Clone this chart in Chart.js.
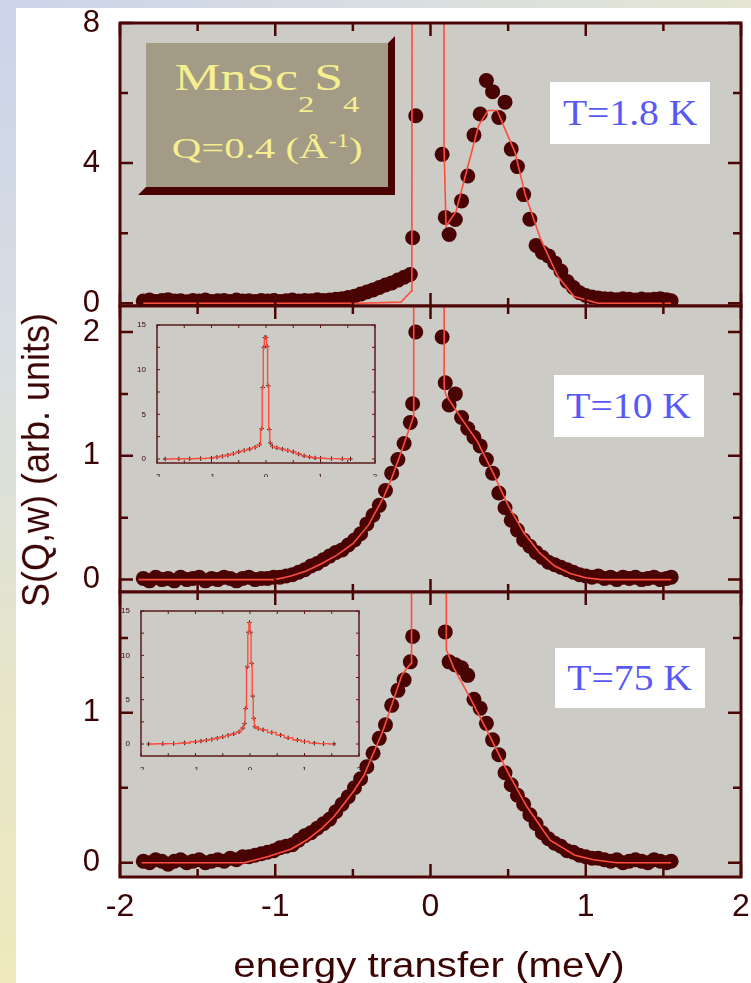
<!DOCTYPE html>
<html>
<head>
<meta charset="utf-8">
<title>MnSc2S4 S(Q,w)</title>
<script src="https://cdn.jsdelivr.net/npm/chart.js@4.4.1/dist/chart.umd.min.js"></script>
<style>
  html, body { margin: 0; padding: 0; background: #fff; }
  #fig { position: relative; width: 751px; height: 983px; overflow: hidden; background: #fff; }
  #edgeLeft { position: absolute; left: 0; top: 0; width: 16px; height: 983px;
    background: linear-gradient(180deg, #cbd4ea 0%, #d8dee2 35%, #e6e5c9 70%, #efe9bd 100%); }
  #edgeTop { position: absolute; left: 0; top: 0; width: 751px; height: 8px;
    background: linear-gradient(90deg, #cbd4ea 0%, #d8dee2 50%, #e4e5d2 100%); }
  canvas { position: absolute; }
  .tbox { position: absolute; background: #fff; color: #5858f6;
    font: 36px 'Liberation Serif', 'Times New Roman', serif;
    display: flex; align-items: center; justify-content: center; }
  .tbox span { display: inline-block; transform: scaleX(1.1); white-space: nowrap; }
  #sampleShadow { position: absolute; left: 138px; top: 36px; width: 257px; height: 159px; background: #4a0303;
    clip-path: polygon(250px 7px, 257px 0, 257px 159px, 0 159px, 8px 151px, 250px 151px); }
  #sampleFace { position: absolute; left: 146px; top: 43px; width: 242px; height: 144px; background: #a39b86; }
  .sline { position: absolute; left: 146px; width: 242px; text-align: center; color: #f5ef8e;
    font-family: 'Liberation Serif', 'Times New Roman', serif; white-space: nowrap; }
  .sline span.w { display: inline-block; transform: scaleX(1.36); }
  .sub { font-size: 24px; position: relative; top: 22px; }
  .sup { font-size: 18px; position: relative; top: -11px; }
  .axtitle { position: absolute; color: #3a0404; font-family: 'Liberation Sans', Arial, sans-serif; white-space: nowrap; line-height: 1; }
</style>
</head>
<body>
<div id="fig">
  <div id="edgeLeft"></div>
  <div id="edgeTop"></div>

  <canvas id="p18" width="780" height="363" style="left:0;top:-17px"></canvas>
  <canvas id="p10" width="780" height="366" style="left:0;top:266px"></canvas>
  <canvas id="p75" width="780" height="431" style="left:0;top:552px"></canvas>
  <canvas id="i10" width="260" height="172" style="left:130px;top:315px"></canvas>
  <canvas id="i75" width="260" height="172" style="left:114px;top:601px"></canvas>

  <div id="sampleShadow"></div>
  <div id="sampleFace"></div>
  <div class="sline" style="top:58px;font-size:38px;line-height:38px"><span class="w">MnSc<span class="sub">2</span>S<span class="sub">4</span></span></div>
  <div class="sline" style="top:133px;font-size:30px;line-height:30px"><span class="w">Q=0.4 (Å<span class="sup">-1</span>)</span></div>

  <div class="tbox" style="left:550px;top:82px;width:160px;height:62px"><span>T=1.8 K</span></div>
  <div class="tbox" style="left:554px;top:375px;width:150px;height:62px"><span>T=10 K</span></div>
  <div class="tbox" style="left:555px;top:648px;width:150px;height:60px"><span>T=75 K</span></div>

  <div class="axtitle" style="left:36px;top:460px;font-size:36px;transform:translate(-50%,-50%) rotate(-90deg) scaleY(1.1)">S(Q,w) (arb. units)</div>
  <div class="axtitle" style="left:429px;top:964px;font-size:35px;transform:translate(-50%,-50%) scaleX(1.15)">energy transfer (meV)</div>
</div>

<script>
// energy grid of the measured points (meV)
const energy = [
  -1.85, -1.81, -1.77, -1.73, -1.69, -1.65, -1.61, -1.57, -1.53, -1.49,
  -1.45, -1.41, -1.37, -1.33, -1.29, -1.25, -1.21, -1.17, -1.13, -1.09,
  -1.05, -1.01, -0.97, -0.93, -0.89, -0.85, -0.81, -0.77, -0.73, -0.69,
  -0.65, -0.61, -0.57, -0.53, -0.49, -0.45, -0.41, -0.37, -0.33, -0.29,
  -0.25, -0.21, -0.17, -0.13, -0.115, -0.095, 0.075, 0.095, 0.12, 0.16,
  0.20, 0.24, 0.28, 0.32, 0.36, 0.40, 0.44, 0.48, 0.52, 0.56,
  0.60, 0.64, 0.68, 0.72, 0.76, 0.80, 0.84, 0.88, 0.92, 0.96,
  1.00, 1.04, 1.08, 1.12, 1.16, 1.20, 1.24, 1.28, 1.32, 1.36,
  1.40, 1.44, 1.48, 1.52, 1.55
];

// S(Q,w) at T = 1.8 K
const s18 = [
  0.06, 0.09, 0.05, 0.08, 0.1, 0.06, 0.07, 0.04, 0.08, 0.06,
  0.09, 0.05, 0.07, 0.08, 0.05, 0.09, 0.06, 0.07, 0.05, 0.08,
  0.06, 0.08, 0.05, 0.07, 0.09, 0.06, 0.08, 0.07, 0.1, 0.08,
  0.09, 0.11, 0.13, 0.16, 0.2, 0.26, 0.32, 0.38, 0.45, 0.52,
  0.58, 0.66, 0.74, 0.82, 1.87, 5.35, 4.25, 2.45, 1.96, 2.39,
  2.92, 3.63, 4.8, 5.4, 6.36, 6.04, 5.3, 5.74, 4.4, 3.9,
  3.1, 2.4, 1.65, 1.45, 1.35, 1.15, 0.92, 0.62, 0.45, 0.3,
  0.22, 0.18, 0.15, 0.13, 0.12, 0.1, 0.13, 0.11, 0.09, 0.12,
  0.1, 0.11, 0.13, 0.1, 0.07
];

// S(Q,w) at T = 10 K
const s10 = [
  0.01, -0.01, 0.02, 0.0, 0.01, -0.01, 0.02, 0.0, 0.01, 0.02,
  -0.01, 0.01, 0.0, 0.02, 0.01, -0.01, 0.01, 0.02, 0.0, 0.01,
  0.01, 0.02, 0.02, 0.03, 0.04, 0.06, 0.08, 0.11, 0.13, 0.16,
  0.19, 0.22, 0.24, 0.28, 0.32, 0.37, 0.45, 0.52, 0.6, 0.72,
  0.86, 0.97, 1.1, 1.27, 1.42, 2.0, 1.96, 1.59, 1.41, 1.5,
  1.31, 1.22, 1.15, 1.08, 0.97, 0.86, 0.7, 0.58, 0.48, 0.4,
  0.32, 0.27, 0.22, 0.18, 0.14, 0.12, 0.1, 0.08, 0.06, 0.04,
  0.03, 0.02, 0.03, 0.01, 0.02, 0.0, 0.02, 0.01, 0.02, 0.0,
  0.01, 0.02, 0.0, 0.01, 0.02
];

// S(Q,w) at T = 75 K
const s75 = [
  0.01, 0.0, 0.02, 0.01, -0.01, 0.01, 0.02, 0.0, 0.01, 0.02,
  0.0, 0.01, 0.02, 0.01, 0.03, 0.02, 0.04, 0.04, 0.05, 0.06,
  0.07, 0.08, 0.1, 0.11, 0.12, 0.15, 0.18, 0.2, 0.23, 0.26,
  0.29, 0.34, 0.39, 0.44, 0.5, 0.56, 0.64, 0.73, 0.83, 0.92,
  1.05, 1.15, 1.22, 1.34, 1.51, null, null, 1.54, 1.34, 1.32,
  1.3, 1.25, 1.09, 1.03, 0.93, 0.82, 0.72, 0.6, 0.52, 0.45,
  0.39, 0.32, 0.26, 0.2, 0.16, 0.13, 0.11, 0.08, 0.07, 0.05,
  0.04, 0.03, 0.03, 0.02, 0.01, 0.02, 0.0, 0.01, 0.02, 0.01,
  0.0, 0.02, 0.01, 0.0, 0.01
];

// fitted curves (the elastic line runs off the top of each panel)
const fit18E = [-1.85, -0.46, -0.19, -0.124, -0.12, -0.113, 0.086, 0.087, 0.1, 0.165, 0.236, 0.31, 0.37, 0.43, 0.48, 0.545, 0.61, 0.71, 0.82, 0.925, 1.08, 1.55];
const fit18 = [0, 0, 0.03, 0.34, 2.4, 40, 40, 4.5, 2.2, 2.63, 3.83, 5.07, 5.5, 5.5, 4.97, 4.3, 3.1, 1.82, 0.77, 0.19, 0, 0];

const fit10E = [-1.88, -1.0, -0.9, -0.8, -0.7, -0.6, -0.5, -0.4, -0.3, -0.25, -0.2, -0.15, -0.12, -0.11, -0.108, 0.086, 0.088, 0.1, 0.2, 0.3, 0.4, 0.5, 0.6, 0.7, 0.8, 0.9, 1.0, 1.1, 1.55];
const fit10 = [0, 0, 0.03, 0.07, 0.13, 0.2, 0.29, 0.44, 0.67, 0.82, 0.99, 1.17, 1.28, 1.32, 40, 40, 1.55, 1.49, 1.3, 1.12, 0.87, 0.6, 0.38, 0.22, 0.11, 0.05, 0.015, 0, 0];

const fit75E = [-1.86, -1.2, -1.05, -0.9, -0.8, -0.7, -0.62, -0.5, -0.43, -0.31, -0.25, -0.185, -0.15, -0.125, -0.122, 0.1, 0.102, 0.15, 0.25, 0.37, 0.5, 0.62, 0.77, 0.93, 1.05, 1.2, 1.55];
const fit75 = [0, 0, 0.04, 0.09, 0.15, 0.23, 0.31, 0.47, 0.58, 0.87, 1.05, 1.25, 1.3, 1.33, 40, 40, 1.42, 1.3, 1.11, 0.87, 0.6, 0.375, 0.15, 0.05, 0.02, 0, 0];

// insets: full scale including the elastic peak
const inset10E = [-1.85, -1.6, -1.4, -1.2, -1.0, -0.9, -0.8, -0.7, -0.6, -0.5, -0.4, -0.3, -0.2, -0.12, -0.08, -0.06, -0.04, -0.02, 0, 0.02, 0.04, 0.06, 0.08, 0.12, 0.2, 0.3, 0.4, 0.5, 0.6, 0.7, 0.8, 0.9, 1.0, 1.2, 1.4, 1.55];
const inset10 = [0.0, 0.02, 0.03, 0.05, 0.1, 0.2, 0.3, 0.42, 0.6, 0.8, 0.95, 1.1, 1.3, 1.6, 3.4, 8.0, 12.5, 13.6, 13.6, 12.6, 8.2, 3.3, 1.8, 1.4, 1.25, 1.1, 0.95, 0.8, 0.55, 0.35, 0.22, 0.12, 0.08, 0.04, 0.02, 0.01];

const inset75E = [-1.86, -1.6, -1.4, -1.2, -1.0, -0.9, -0.8, -0.7, -0.6, -0.5, -0.4, -0.3, -0.2, -0.13, -0.1, -0.08, -0.05, -0.03, -0.01, 0.01, 0.03, 0.05, 0.07, 0.09, 0.15, 0.24, 0.4, 0.56, 0.7, 0.87, 1.0, 1.18, 1.35, 1.54];
const inset75 = [0.0, 0.03, 0.05, 0.12, 0.25, 0.33, 0.42, 0.52, 0.65, 0.82, 0.98, 1.15, 1.38, 1.8, 2.3, 4.0, 8.7, 12.6, 13.7, 12.6, 9.1, 5.4, 2.9, 1.95, 1.75, 1.6, 1.3, 1.0, 0.7, 0.45, 0.28, 0.1, 0.04, 0.01];

const xLabels = [-2, -1, 0, 1, 2];
const xMinor = [-1.5, -0.5, 0.5, 1.5];
const y18Labels = [0, 4, 8];
const y18Minor = [2, 6];
const y10Labels = [0, 1, 2];
const y10Minor = [0.5, 1.5];
const y75Labels = [0, 1];
const y75Minor = [0.5, 1.5];
const insetYLabels = [0, 5, 10, 15];
const insetYMinor = [2.5, 7.5, 12.5];

const DOT = '#4a0303';
const FRAME = '#4d0606';
const RED = '#ff4d3d';
const PLOT_BG = '#cdcbc6';
const LABEL = '#3a0404';
const SANS = "'Liberation Sans', Arial, sans-serif";

const pts = (xs, ys) => xs.map((x, i) => ({ x, y: ys[i] })).filter((p) => p.y !== null);

// gray plot area, inward ticks on all four sides and the frame
const frameAndTicks = {
  id: 'frameAndTicks',
  beforeDraw(chart, args, options) {
    const { ctx, chartArea: { left, top, width, height } } = chart;
    ctx.save();
    ctx.fillStyle = options.fill;
    ctx.fillRect(left, top, width, height);
    ctx.restore();
  },
  afterDatasetsDraw(chart, args, options) {
    const { ctx, chartArea: { left, right, top, bottom }, scales: { x, y } } = chart;
    ctx.save();
    ctx.strokeStyle = options.color;
    ctx.lineWidth = options.tickWidth;
    ctx.beginPath();
    const xTick = (v, len) => {
      const p = x.getPixelForValue(v);
      ctx.moveTo(p, top); ctx.lineTo(p, top + len);
      ctx.moveTo(p, bottom); ctx.lineTo(p, bottom - len);
    };
    const yTick = (v, len) => {
      const p = y.getPixelForValue(v);
      ctx.moveTo(left, p); ctx.lineTo(left + len, p);
      ctx.moveTo(right, p); ctx.lineTo(right - len, p);
    };
    options.xMajor.forEach((v) => xTick(v, options.major));
    options.xMinor.forEach((v) => xTick(v, options.minor));
    options.yMajor.forEach((v) => yTick(v, options.major));
    options.yMinor.forEach((v) => yTick(v, options.minor));
    ctx.stroke();
    ctx.lineWidth = options.lineWidth;
    ctx.strokeRect(left, top, right - left, bottom - top);
    ctx.restore();
  },
};

function drawPanel(id, cfg) {
  return new Chart(document.getElementById(id), {
    type: 'scatter',
    data: {
      datasets: [
        { data: pts(cfg.fitE, cfg.fit), showLine: true, borderColor: RED, borderWidth: 1.6, pointRadius: 0, order: 0 },
        { data: pts(energy, cfg.values), pointRadius: 7.5, backgroundColor: DOT, borderWidth: 0, order: 1 },
      ],
    },
    options: {
      responsive: false,
      animation: false,
      devicePixelRatio: 1,
      events: [],
      layout: { padding: cfg.padding },
      scales: {
        x: {
          type: 'linear', min: -2, max: 2,
          display: !!cfg.showX,
          grid: { display: false },
          border: { display: false },
          ticks: { color: LABEL, font: { family: SANS, size: 32 }, padding: 3, maxRotation: 0, autoSkip: false, callback: (v) => String(v) },
          afterBuildTicks: (s) => { s.ticks = xLabels.map((v) => ({ value: v })); },
          afterFit: (s) => { s.height = cfg.showX ? 50 : 0; },
        },
        y: {
          type: 'linear', min: cfg.yMin, max: cfg.yMax,
          grid: { display: false },
          border: { display: false },
          ticks: { color: LABEL, font: { family: SANS, size: 31 }, padding: 12, callback: (v) => String(v) },
          afterBuildTicks: (s) => { s.ticks = cfg.yLabels.map((v) => ({ value: v })); },
          afterFit: (s) => { s.width = 120; },
        },
      },
      plugins: {
        legend: { display: false },
        tooltip: { enabled: false },
        frameAndTicks: {
          fill: PLOT_BG, color: FRAME, lineWidth: 3, tickWidth: 2.5, major: 13, minor: 8,
          xMajor: xLabels, xMinor: xMinor, yMajor: cfg.yLabels, yMinor: cfg.yMinor,
        },
      },
    },
    plugins: [frameAndTicks],
  });
}

function drawInset(id, e, s, yMin, padBottom) {
  return new Chart(document.getElementById(id), {
    type: 'scatter',
    data: {
      datasets: [
        { data: pts(e, s), showLine: true, stepped: 'middle', borderColor: RED, borderWidth: 1.4, pointRadius: 0, order: 0 },
        { data: pts(e, s), pointStyle: 'cross', pointRadius: 2.2, borderColor: '#3a0a0a', borderWidth: 1, order: 1 },
      ],
    },
    options: {
      responsive: false,
      animation: false,
      devicePixelRatio: 1,
      events: [],
      layout: { padding: { left: 0, right: 15, top: 10, bottom: padBottom } },
      scales: {
        x: {
          type: 'linear', min: -2, max: 2,
          grid: { display: false },
          border: { display: false },
          ticks: { color: LABEL, font: { family: SANS, size: 8 }, padding: 1, maxRotation: 0, autoSkip: false, callback: (v) => String(v) },
          afterBuildTicks: (sc) => { sc.ticks = xLabels.map((v) => ({ value: v })); },
          afterFit: (sc) => { sc.height = 14; },
        },
        y: {
          type: 'linear', min: yMin, max: 15,
          grid: { display: false },
          border: { display: false },
          ticks: { color: LABEL, font: { family: SANS, size: 8 }, padding: 3, callback: (v) => String(v) },
          afterBuildTicks: (sc) => { sc.ticks = insetYLabels.map((v) => ({ value: v })); },
          afterFit: (sc) => { sc.width = 27; },
        },
      },
      plugins: {
        legend: { display: false },
        tooltip: { enabled: false },
        frameAndTicks: {
          fill: PLOT_BG, color: '#5a1a1a', lineWidth: 1.5, tickWidth: 1, major: 3, minor: 3,
          xMajor: xLabels, xMinor: xMinor, yMajor: insetYLabels, yMinor: insetYMinor,
        },
      },
    },
    plugins: [frameAndTicks],
  });
}

drawPanel('p18', {
  values: s18, fitE: fit18E, fit: fit18,
  yMin: -0.08, yMax: 8, yLabels: y18Labels, yMinor: y18Minor,
  padding: { left: 0, right: 39, top: 40, bottom: 40 },
});
drawPanel('p10', {
  values: s10, fitE: fit10E, fit: fit10,
  yMin: -0.1, yMax: 2.21, yLabels: y10Labels, yMinor: y10Minor,
  padding: { left: 0, right: 39, top: 40, bottom: 40 },
});
drawPanel('p75', {
  values: s75, fitE: fit75E, fit: fit75,
  yMin: -0.095, yMax: 1.806, yLabels: y75Labels, yMinor: y75Minor,
  padding: { left: 0, right: 39, top: 40, bottom: 56 },
  showX: true,
});
drawInset('i10', inset10E, inset10, -0.45, 10);
drawInset('i75', inset75E, inset75, -1.35, 3);
</script>
</body>
</html>
